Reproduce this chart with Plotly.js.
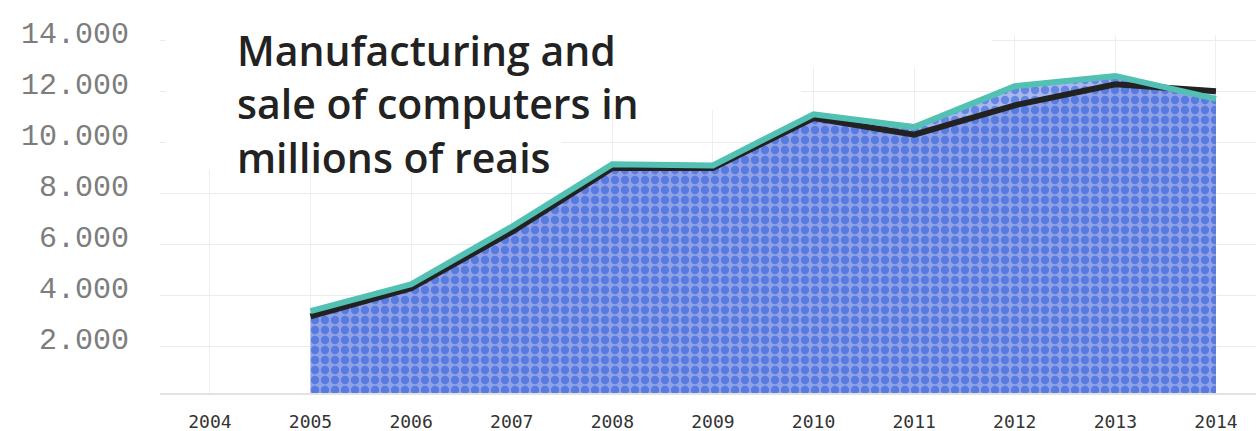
<!DOCTYPE html>
<html>
<head>
<meta charset="utf-8">
<script src="https://cdn.plot.ly/plotly-3.0.1.min.js"></script>
<style>
html,body{margin:0;padding:0;background:#fff;}
#chart{width:1256px;height:431px;}
</style>
</head>
<body>
<div id="chart"></div>
<script>
// Data
const years = [2004, 2005, 2006, 2007, 2008, 2009, 2010, 2011, 2012, 2013, 2014];
const seriesDark = [null, 3200, 4300, 6500, 9000, 9000, 10950, 10300, 11450, 12270, 12000];
const seriesTeal = [null, 3400, 4450, 6700, 9150, 9100, 11100, 10600, 12200, 12600, 11700];
const yTickVals = [2000, 4000, 6000, 8000, 10000, 12000, 14000];
const yTickText = ['2.000', '4.000', '6.000', '8.000', '10.000', '12.000', '14.000'];
const xTickText = years.map(String);
const titleLines = ['Manufacturing and', 'sale of computers in', 'millions of reais'];

const traces = [
  { // light patterned fill under the teal line
    x: years, y: seriesTeal, type: 'scatter', mode: 'none', fill: 'tozeroy',
    fillcolor: '#a9b6ee',
    fillpattern: {shape: '.', bgcolor: '#aab7ef', fgcolor: '#6387e3', size: 10, solidity: 0.55},
    hoverinfo: 'skip', showlegend: false
  },
  { // darker overlay under the dark line
    x: years, y: seriesDark, type: 'scatter', mode: 'none', fill: 'tozeroy',
    fillcolor: 'rgba(40,75,205,0.2)',
    hoverinfo: 'skip', showlegend: false
  },
  {
    x: years, y: seriesDark, type: 'scatter', mode: 'lines',
    line: {color: '#222222', width: 6}, hoverinfo: 'skip', showlegend: false
  },
  {
    x: years, y: seriesTeal, type: 'scatter', mode: 'lines',
    line: {color: '#52c0b2', width: 6}, hoverinfo: 'skip', showlegend: false
  }
];

function cover(xPaper, yPaper, w, h) {
  return {
    xref: 'paper', yref: 'paper', x: xPaper, y: yPaper,
    xanchor: 'left', yanchor: 'top', showarrow: false,
    text: ' ', width: w, height: h, bgcolor: '#ffffff', borderpad: 0,
    font: {size: 1}
  };
}

const layout = {
  width: 1256, height: 431,
  margin: {l: 160, r: 0, t: 35, b: 38},
  paper_bgcolor: '#ffffff', plot_bgcolor: '#ffffff',
  showlegend: false,
  xaxis: {
    range: [2003.504, 2014.398],
    tickmode: 'array', tickvals: years, ticktext: xTickText,
    showgrid: true, gridcolor: '#eeeeee', gridwidth: 1,
    zeroline: false, showline: true, linecolor: '#e2e2e2', linewidth: 1.5,
    ticks: '', ticklabelstandoff: 12,
    tickfont: {family: 'DejaVu Sans Mono', size: 18, color: '#333333'}
  },
  yaxis: {
    range: [200, 14200],
    tickmode: 'array', tickvals: yTickVals, ticktext: yTickText,
    showgrid: true, gridcolor: '#ebebeb', gridwidth: 1,
    zeroline: false, showline: false, ticks: '',
    ticklabelstandoff: 30, ticklabelshift: -8,
    tickfont: {family: 'Liberation Mono', size: 30, color: '#7d7d7d'}
  },
  annotations: [
    cover(0.00456, 1.0, 825, 30),
    cover(0.00456, 0.916, 635, 43),
    cover(0.00456, 0.796, 395, 60),
    {
      xref: 'paper', yref: 'paper', x: 0.0684, y: 1.042,
      xanchor: 'left', yanchor: 'top', align: 'left', showarrow: false,
      text: titleLines.join('<br>'),
      font: {family: 'Open Sans', size: 41, color: '#222222', weight: 600}
    }
  ]
};

Plotly.newPlot('chart', traces, layout, {staticPlot: true, displayModeBar: false});
</script>
</body>
</html>
